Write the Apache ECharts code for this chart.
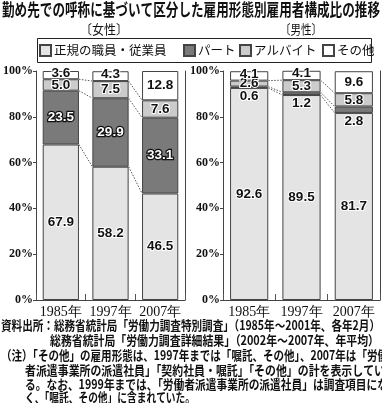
<!DOCTYPE html>
<html><head><meta charset="utf-8">
<script src="https://cdn.jsdelivr.net/npm/echarts@6/dist/echarts.min.js"></script>
<style>html,body{margin:0;padding:0;background:#fff}#c{width:382px;height:403px}</style>
</head><body><div id="c"></div>
<script>
// ---- data ----
const categories = ['1985年', '1997年', '2007年'];
const seriesNames = ['正規の職員・従業員', 'パート', 'アルバイト', 'その他'];
const femaleRegular = [67.9, 58.2, 46.5];
const femalePart    = [23.5, 29.9, 33.1];
const femaleArbeit  = [5.0, 7.5, 7.6];
const femaleOther   = [3.6, 4.3, 12.8];
const maleRegular   = [92.6, 89.5, 81.7];
const malePart      = [0.6, 1.2, 2.8];
const maleArbeit    = [2.6, 5.3, 5.8];
const maleOther     = [4.1, 4.1, 9.6];
const yMin = 0, yMax = 100, yStep = 20;
const titleText = '勤め先での呼称に基づいて区分した雇用形態別雇用者構成比の推移';
const panelTitles = ['〔女性〕', '〔男性〕'];
const footerLines = [
  '資料出所：総務省統計局「労働力調査特別調査」（1985年～2001年、各年2月）',
  '総務省統計局「労働力調査詳細結果」（2002年～2007年、年平均）',
  '（注）「その他」の雇用形態は、1997年までは「嘱託、その他」、2007年は「労働',
  '者派遣事業所の派遣社員」「契約社員・嘱託」「その他」の計を表示してい',
  'る。なお、1999年までは、「労働者派遣事業所の派遣社員」は調査項目にな',
  'く、「嘱託、その他」に含まれていた。'
];

// ---- styles ----
const CJK = '"Noto Sans CJK JP", sans-serif';
const SERIF = '"Liberation Serif", "DejaVu Serif", serif';
const NUM = '"Liberation Sans", Arial, sans-serif';
const colors = ['#e4e4e4', '#7a7a7a', '#cbcbcb', '#ffffff'];
const BAR_RATIO = 0.73;
const edge = '#444';

const chart = echarts.init(document.getElementById('c'), null, {renderer: 'canvas'});

function measure(text, font) {
  const cv = document.createElement('canvas').getContext('2d');
  cv.font = font;
  return cv.measureText(text).width;
}
function fitText(text, x, xEnd, y, size, weight) {
  const w = measure(text, `${weight} ${size}px "Noto Sans CJK JP"`);
  return {
    type: 'text', x: x, y: y, scaleX: (xEnd - x) / w, scaleY: 1, z: 10,
    style: {text: text, fontSize: size, fontWeight: weight, fontFamily: CJK,
            fill: '#111', textVerticalAlign: 'middle', textAlign: 'left'}
  };
}

const haloDark = {color: '#111', textBorderColor: '#fff', textBorderWidth: 2};
const haloLight = {color: '#fff', textBorderColor: '#111', textBorderWidth: 2.5};
const labelBase = {show: true, fontFamily: NUM, fontSize: 13.5, fontWeight: 'bold',
                   formatter: p => Number(p.value).toFixed(1)};

function items(vals, smallOffset) {
  return vals.map(v => (smallOffset && v < 6)
    ? {value: v, label: {offset: [0, -2]}} : v);
}

function barSeries(idx, vals, gi, stack, labelOpt, smallOffset) {
  return {
    type: 'bar', name: seriesNames[idx], stack: stack,
    xAxisIndex: gi * 2, yAxisIndex: gi * 2,
    barWidth: (BAR_RATIO * 100) + '%',
    itemStyle: {color: colors[idx], borderColor: edge, borderWidth: 1},
    label: Object.assign({}, labelBase, labelOpt),
    data: items(vals, smallOffset),
    animation: false, z: 2
  };
}

function connectorData(groups) {
  const out = [];
  let acc = categories.map(() => 0);
  for (let k = 0; k < groups.length - 1; k++) {
    acc = acc.map((a, i) => a + groups[k][i]);
    for (let i = 0; i < categories.length - 1; i++) out.push([i, acc[i], acc[i + 1]]);
  }
  return out;
}
function connectorSeries(groups, gi) {
  return {
    type: 'custom', xAxisIndex: gi * 2, yAxisIndex: gi * 2, silent: true,
    animation: false, z: 3,
    dimensions: ['i', 'a', 'b'], encode: {x: 0, y: [1, 2]},
    data: connectorData(groups),
    renderItem: function (params, api) {
      const i = api.value(0);
      const p1 = api.coord([i, api.value(1)]);
      const p2 = api.coord([i + 1, api.value(2)]);
      const half = api.size([1, 0])[0] * BAR_RATIO / 2;
      return {type: 'line', shape: {x1: p1[0] + half, y1: p1[1], x2: p2[0] - half, y2: p2[1]},
              style: {stroke: '#555', lineWidth: 1, lineDash: [1.5, 1.5]}};
    }
  };
}

const grids = [
  {left: 32, top: 71, width: 153, height: 229},
  {left: 223, top: 71, width: 157, height: 229}
];
const xAxes = [], yAxes = [];
grids.forEach((g, gi) => {
  xAxes.push({
    gridIndex: gi, type: 'category', data: categories, boundaryGap: true,
    axisLine: {show: false},
    axisTick: {show: true, inside: true, length: 6, lineStyle: {color: '#555'}},
    axisLabel: {interval: 0, fontFamily: SERIF, fontSize: 14, color: '#111', margin: 5}
  });
  xAxes.push({
    gridIndex: gi, type: 'category', data: categories, position: 'top',
    axisLine: {show: true, lineStyle: {color: edge, width: 1}},
    axisTick: {show: false}, axisLabel: {show: false}
  });
  yAxes.push({
    gridIndex: gi, type: 'value', min: yMin, max: yMax, interval: yStep,
    axisLine: {show: true, lineStyle: {color: edge, width: 1}},
    axisTick: {show: true, length: 3, lineStyle: {color: edge}},
    splitLine: {show: false},
    axisLabel: {formatter: '{value}%', fontFamily: SERIF, fontWeight: 'bold',
                fontSize: 12, color: '#111', margin: 3, showMinLabel: true, showMaxLabel: true}
  });
  yAxes.push({
    gridIndex: gi, type: 'value', min: yMin, max: yMax, interval: yStep, position: 'right',
    axisLine: {show: true, lineStyle: {color: edge, width: 1}},
    axisTick: {show: false}, axisLabel: {show: false}, splitLine: {show: false}
  });
});

const femaleGroups = [femaleRegular, femalePart, femaleArbeit, femaleOther];
const maleGroups = [maleRegular, malePart, maleArbeit, maleOther];

const series = [
  barSeries(0, femaleRegular, 0, 'f', Object.assign({position: 'inside'}, haloDark)),
  barSeries(1, femalePart, 0, 'f', Object.assign({position: 'inside'}, haloLight)),
  barSeries(2, femaleArbeit, 0, 'f', Object.assign({position: 'inside'}, haloDark)),
  barSeries(3, femaleOther, 0, 'f', Object.assign({position: 'inside'}, haloDark), true),
  connectorSeries(femaleGroups, 0),
  barSeries(0, maleRegular, 1, 'm', Object.assign({position: 'inside'}, haloDark)),
  barSeries(1, malePart, 1, 'm', Object.assign({position: 'bottom', distance: 1}, haloDark)),
  barSeries(2, maleArbeit, 1, 'm', Object.assign({position: 'inside'}, haloDark)),
  barSeries(3, maleOther, 1, 'm', Object.assign({position: 'inside'}, haloDark), true),
  connectorSeries(maleGroups, 1)
];

const legendX = [39, 183, 239, 322];
const legends = seriesNames.map((n, i) => ({
  data: [n], left: legendX[i], top: 44, itemWidth: 11, itemHeight: 11, itemGap: 0,
  padding: 0, selectedMode: false, icon: 'rect',
  textStyle: {fontFamily: CJK, fontSize: 12.5, color: '#111', padding: [0, 0, 0, -2]}
}));

const graphic = [
  fitText(titleText, 2, 380, 10, 17, 'bold'),
  fitText(panelTitles[0], 80, 128, 29, 13, 'normal'),
  fitText(panelTitles[1], 280, 322, 29, 13, 'normal'),
  {type: 'rect', shape: {x: 37.5, y: 38.5, width: 334, height: 24}, style: {fill: 'none', stroke: '#222', lineWidth: 1}},
  fitText(footerLines[0], 1, 380, 325, 13, 'bold'),
  fitText(footerLines[1], 50, 379, 340, 13, 'bold'),
  fitText(footerLines[2], 1, 388, 355, 13, 'bold'),
  fitText(footerLines[3], 25, 385, 370, 13, 'bold'),
  fitText(footerLines[4], 25, 388, 384, 13, 'bold'),
  fitText(footerLines[5], 25, 195, 397, 13, 'bold')
];

chart.setOption({
  backgroundColor: '#fff',
  animation: false,
  grid: grids, xAxis: xAxes, yAxis: yAxes,
  legend: legends, series: series, graphic: graphic
});
</script></body></html>
